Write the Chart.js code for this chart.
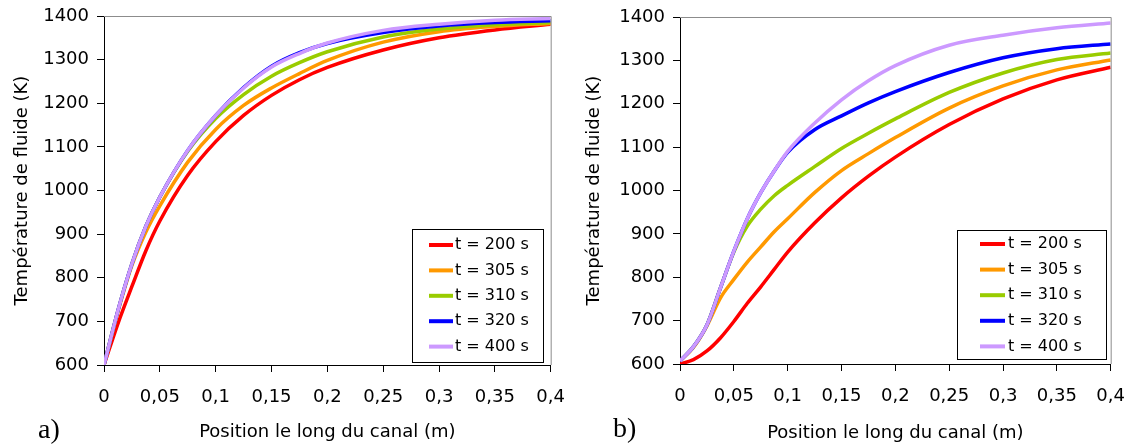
<!DOCTYPE html>
<html>
<head>
<meta charset="utf-8">
<script src="https://cdn.jsdelivr.net/npm/chart.js@4.4.1/dist/chart.umd.min.js"></script>
<style>
  body { margin: 0; background: #fff; width: 1133px; height: 448px; overflow: hidden; position: relative; }
  canvas { position: absolute; top: -3px; }
  #cA { left: 0; }
  #cB { left: 577px; }
  .tag { position: absolute; font-family: "Liberation Serif", serif; font-size: 28px; color: #000; line-height: 1; }
</style>
</head>
<body>
<canvas id="cA" width="580" height="451"></canvas>
<canvas id="cB" width="563" height="451"></canvas>
<div class="tag" style="left:38px; top:415px;">a)</div>
<div class="tag" style="left:613px; top:414px;">b)</div>
<script>
// Series labels and colours
const seriesLabels = ['t = 200 s', 't = 305 s', 't = 310 s', 't = 320 s', 't = 400 s'];
const seriesColors = ['#ff0000', '#ff9900', '#99cc00', '#0000ff', '#cc99ff'];

// a) positions (m) and temperatures (K)
const posA = [0, 0.0125, 0.025, 0.0375, 0.05, 0.075, 0.1, 0.125, 0.15, 0.175, 0.2, 0.25, 0.3, 0.35, 0.4];
const a200 = [600, 695, 780, 862, 930, 1035, 1112, 1172, 1218, 1254, 1282, 1322, 1350, 1368, 1381];
const a305 = [600, 722, 828, 905, 965, 1065, 1140, 1195, 1235, 1268, 1298, 1340, 1364, 1376, 1383];
const a310 = [600, 725, 832, 918, 985, 1090, 1165, 1220, 1262, 1293, 1318, 1352, 1370, 1380, 1385];
const a320 = [600, 725, 832, 918, 985, 1092, 1172, 1236, 1285, 1316, 1337, 1362, 1377, 1385, 1389];
const a400 = [600, 725, 832, 918, 985, 1092, 1172, 1235, 1283, 1314, 1338, 1367, 1381, 1390, 1394];

// b) positions (m) and temperatures (K)
const posB = [0, 0.0125, 0.025, 0.0375, 0.05, 0.0625, 0.075, 0.0875, 0.1, 0.125, 0.15, 0.175, 0.2, 0.25, 0.3, 0.35, 0.4];
const b200 = [600, 610, 630, 660, 698, 740, 778, 818, 858, 925, 983, 1033, 1077, 1152, 1211, 1255, 1284];
const b305 = [607, 638, 688, 752, 795, 835, 870, 905, 935, 995, 1046, 1085, 1122, 1190, 1241, 1278, 1301];
const b310 = [607, 640, 690, 775, 858, 918, 957, 988, 1012, 1055, 1097, 1132, 1165, 1226, 1271, 1302, 1317];
const b320 = [607, 640, 690, 775, 860, 935, 995, 1045, 1088, 1140, 1172, 1202, 1228, 1272, 1306, 1327, 1338];
const b400 = [607, 640, 690, 775, 860, 935, 995, 1045, 1090, 1155, 1209, 1253, 1288, 1335, 1358, 1375, 1386];

const FONT = 'DejaVu Sans';

function toPoints(xs, ys) {
    return xs.map((x, i) => ({ x: x, y: ys[i] }));
}

function makeDatasets(xs, rows) {
    return rows.map((ys, i) => ({
        label: seriesLabels[i],
        data: toPoints(xs, ys),
        borderColor: seriesColors[i],
        backgroundColor: seriesColors[i],
        borderWidth: 3.5,
        pointRadius: 0,
        fill: false,
        cubicInterpolationMode: 'monotone',
        order: rows.length - 1 - i   // later series painted on top
    }));
}

// gray frame on top/right of plot + boxed legend inside the plot
const framePlugin = {
    id: 'frame',
    afterDraw(chart, args, opts) {
        const ctx = chart.ctx;
        const a = chart.chartArea;
        ctx.save();
        ctx.strokeStyle = '#8c8c8c';
        ctx.lineWidth = 1;
        ctx.beginPath();
        ctx.moveTo(a.left, a.top + 0.5);
        ctx.lineTo(a.right + 0.5, a.top + 0.5);
        ctx.lineTo(a.right + 0.5, a.bottom);
        ctx.stroke();

        const L = opts.legend;
        ctx.strokeStyle = '#000';
        ctx.strokeRect(L.x + 0.5, L.y + 0.5, L.w, L.h);
        ctx.font = '16px "' + FONT + '"';
        ctx.textBaseline = 'middle';
        ctx.fillStyle = '#000';
        chart.data.datasets.forEach((ds, i) => {
            const y = L.y + L.first + i * L.step;
            ctx.strokeStyle = ds.borderColor;
            ctx.lineWidth = 4;
            ctx.beginPath();
            ctx.moveTo(L.x + L.s0, y);
            ctx.lineTo(L.x + L.s1, y);
            ctx.stroke();
            ctx.fillText(ds.label, L.x + L.tx, y);
        });
        ctx.restore();
    }
};

function fmtComma(v) {
    return (Math.round(v * 1000) / 1000).toString().replace('.', ',');
}

function makeChart(id, xs, rows, geo) {
    return new Chart(document.getElementById(id), {
        type: 'line',
        data: { datasets: makeDatasets(xs, rows) },
        plugins: [framePlugin],
        options: {
            responsive: false,
            animation: false,
            layout: { padding: { left: 0, top: geo.top, right: 0, bottom: geo.bottom } },
            plugins: {
                legend: { display: false },
                tooltip: { enabled: false },
                frame: { legend: geo.legend }
            },
            scales: {
                x: {
                    type: 'linear',
                    min: 0,
                    max: 0.4,
                    afterFit: s => { s.height = geo.xh; },
                    ticks: {
                        stepSize: 0.05,
                        color: '#000',
                        padding: 15,
                        maxRotation: 0,
                        font: { family: FONT, size: 18 },
                        callback: v => fmtComma(v)
                    },
                    grid: { drawOnChartArea: false, tickLength: 7, color: '#000' },
                    border: { color: '#000', width: 1 },
                    title: {
                        display: true,
                        text: 'Position le long du canal (m)',
                        color: '#000',
                        font: { family: FONT, size: 18 },
                        padding: { top: 0, bottom: geo.xtPad }
                    }
                },
                y: {
                    min: 600,
                    max: 1400,
                    afterFit: s => { s.width = geo.yw; },
                    ticks: {
                        stepSize: 100,
                        color: '#000',
                        padding: 8,
                        font: { family: FONT, size: 18 },
                        callback: v => String(v)
                    },
                    grid: { drawOnChartArea: false, tickLength: 7, color: '#000' },
                    border: { color: '#000', width: 1 },
                    title: {
                        display: true,
                        text: 'Température de fluide (K)',
                        color: '#000',
                        font: { family: FONT, size: 18 },
                        padding: { top: geo.ytPad, bottom: 0 }
                    }
                }
            }
        }
    });
}

// canvases sit 3px above the page top; legend coords are canvas coords
makeChart('cA', posA, [a200, a305, a310, a320, a400], {
    top: 19, bottom: 3, xh: 80, yw: 104, xtPad: 2, ytPad: 12,
    legend: { x: 412, y: 232, w: 131, h: 133, first: 16, step: 25.4, s0: 17, s1: 41, tx: 43 }
});

makeChart('cB', posB, [b200, b305, b310, b320, b400], {
    top: 20, bottom: 4, xh: 80, yw: 103, xtPad: 0, ytPad: 7,
    legend: { x: 380, y: 233, w: 149, h: 129, first: 14, step: 25.6, s0: 23, s1: 48, tx: 51 }
});
</script>
</body>
</html>
